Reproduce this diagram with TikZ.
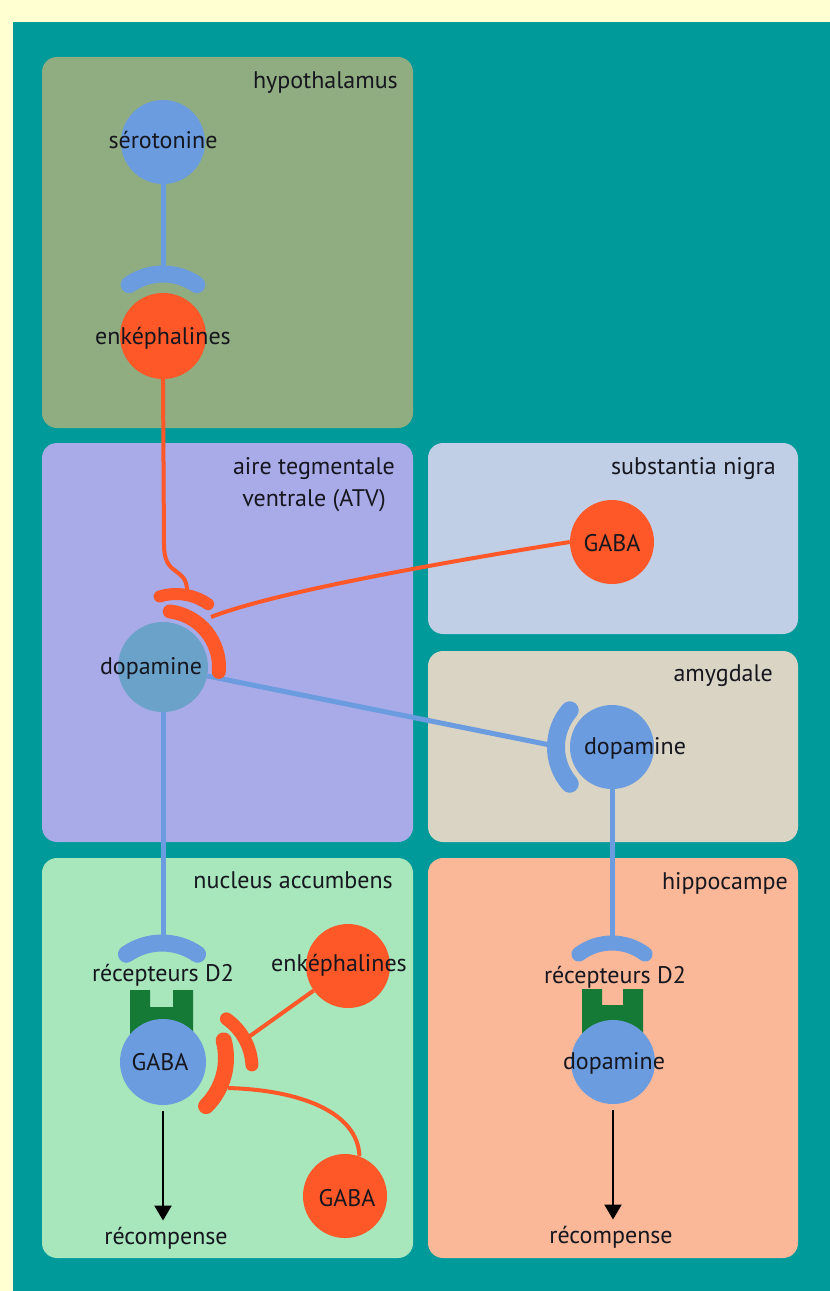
\documentclass[tikz,border=0pt]{standalone}
\usepackage{fontspec}
\setmainfont{PT Sans}
\usetikzlibrary{arrows.meta,calc}
\definecolor{bgy}{HTML}{FFFFD2}
\definecolor{teal1}{HTML}{009A9A}
\definecolor{phypo}{HTML}{90AD82}
\definecolor{patv}{HTML}{A8ABE8}
\definecolor{psn}{HTML}{C0CEE6}
\definecolor{pamy}{HTML}{DAD4C4}
\definecolor{pnuc}{HTML}{A8E6BC}
\definecolor{phip}{HTML}{FAB898}
\definecolor{cblue}{HTML}{6A9CDF}
\definecolor{catv}{HTML}{6BA2C9}
\definecolor{corange}{HTML}{FF5828}
\definecolor{cgreen}{HTML}{157A35}
\definecolor{ctext}{HTML}{16161E}
\begin{document}
\begin{tikzpicture}[x=1pt,y=1pt,yscale=-1,
  panel/.style={rounded corners=15pt},
  txt/.style={font=\fontsize{24}{30}\selectfont, text=ctext, inner sep=2pt},
  cell/.style={circle, minimum size=#1, inner sep=0pt},
  bline/.style={draw=cblue, line width=5pt},
  oline/.style={draw=corange, line width=4pt},
  brec/.style={draw=cblue, line width=17pt, line cap=round},
  orec/.style={draw=corange, line width=14pt, line cap=round},
  arr/.style={draw=black, line width=2.2pt, -{Triangle[width=17pt,length=15pt]}},
  grn/.style={fill=cgreen}
]
\useasboundingbox (0,0) rectangle (830,1291);
\fill[bgy] (0,0) rectangle (830,1291);
\fill[teal1] (13,22) rectangle (830,1291);

% panels
\fill[phypo, panel] (42,57) rectangle (413,428);
\fill[patv, panel] (42,443) rectangle (413,842);
\fill[psn, panel] (428,443) rectangle (798,634);
\fill[pamy, panel] (428,651) rectangle (798,842);
\fill[pnuc, panel] (42,858) rectangle (413,1258);
\fill[phip, panel] (428,858) rectangle (798,1258);

% green receptor blocks
\fill[grn] (130,990) -- (150,990) -- (150,1007) -- (173,1007) -- (173,990) -- (193,990) -- (193,1035) -- (130,1035) -- cycle;
\fill[grn] (582,989) -- (602,989) -- (602,1005) -- (623,1005) -- (623,989) -- (643,989) -- (643,1035) -- (582,1035) -- cycle;

% cells
\node[cell=84, fill=cblue] (ser) at (163,142) {};
\node[cell=86, fill=corange] (enkH) at (163,336) {};
\node[cell=90, fill=catv] (dopA) at (163,667) {};
\node[cell=84, fill=corange] (gabaS) at (612,542) {};
\node[cell=84, fill=cblue] (dopM) at (612,747) {};
\node[cell=86, fill=cblue] (gabaB) at (163,1062) {};
\node[cell=84, fill=corange] (enkN) at (348,966) {};
\node[cell=84, fill=corange] (gabaO) at (345,1196) {};
\node[cell=84, fill=cblue] (dopH) at (613,1062) {};

% connector end points on receptors
\coordinate (rhy) at (163,268);
\coordinate (oa) at (187,591);
\coordinate (ia) at (211,617);
\coordinate (ram) at (550,745);
\coordinate (rnu) at (163,940);
\coordinate (rhi) at (612,940);
\coordinate (ua) at (250,1036);
\coordinate (la) at (228,1088);

% connectors
\draw[bline] (ser.south) -- (rhy);
\draw[oline] (enkH.south) -- (164,545) .. controls (164,578) and (187,566) .. (oa);
\draw[oline] (gabaS.west) .. controls (420,566) and (270,594) .. (ia);
\draw[bline] (dopA) -- (ram);
\draw[bline] (dopA.south) -- (rnu);
\draw[bline] (dopM.south) -- (rhi);
\draw[oline] (enkN) -- (ua);
\draw[oline] (gabaO.70) .. controls (358,1112) and (300,1090) .. (la);

% receptors (arcs)
\draw[brec] ($(163,333)+(235:59)$) arc[start angle=235, end angle=305, radius=59];
\draw[orec] ($(163,667)+(-83:56)$) arc[start angle=-83, end angle=5, radius=56];
\draw[orec, line width=12pt] ($(176,650)+(-107:56)$) arc[start angle=-107, end angle=-55, radius=56];
\draw[brec, line width=18pt] ($(612,747)+(139:56)$) arc[start angle=139, end angle=221, radius=56];
\draw[brec] ($(162,1005)+(235:62)$) arc[start angle=235, end angle=305, radius=62];
\draw[brec, line width=15pt] ($(612,998)+(233:55)$) arc[start angle=233, end angle=307, radius=55];
\draw[orec, line width=13pt] ($(192,1068)+(-55:60)$) arc[start angle=-55, end angle=-3, radius=60];
\draw[orec, line width=16pt] ($(158,1058)+(-15:68)$) arc[start angle=-15, end angle=45, radius=68];

% texts
\node[txt, anchor=base east] (hypoL) at (400,88) {hypothalamus};
\node[txt, anchor=base] (serT) at (163,148) {sérotonine};
\node[txt, anchor=base] (enkHT) at (163,344) {enképhalines};
\node[txt, anchor=base] (atvL1) at (314,474) {aire tegmentale};
\node[txt, anchor=base] (atvL2) at (314,506) {ventrale (ATV)};
\node[txt, anchor=base] (dopAT) at (151,674) {dopamine};
\node[txt, anchor=base east] (snL) at (778,474) {substantia nigra};
\node[txt, anchor=base] (gabaST) at (612,551) {GABA};
\node[txt, anchor=base east] (amyL) at (775,681) {amygdale};
\node[txt, anchor=base] (dopMT) at (635,754) {dopamine};
\node[txt, anchor=base east] (nucL) at (395,888) {nucleus accumbens};
\node[txt, anchor=base] (rd2N) at (163,981) {récepteurs D2};
\node[txt, anchor=base] (gabaBT) at (160,1070) {GABA};
\node[txt, anchor=base] (enkNT) at (339,971) {enképhalines};
\node[txt, anchor=base] (gabaOT) at (347,1206) {GABA};
\node[txt, anchor=base] (recN) at (166,1244) {récompense};
\node[txt, anchor=base east] (hipL) at (790,889) {hippocampe};
\node[txt, anchor=base] (rd2H) at (615,983) {récepteurs D2};
\node[txt, anchor=base] (dopHT) at (614,1069) {dopamine};
\node[txt, anchor=base] (recH) at (611,1243) {récompense};

% reward arrows
\draw[arr, shorten <=6pt, shorten >=4pt] (gabaB.south) -- (gabaB.south |- recN.north);
\draw[arr, shorten <=6pt, shorten >=4pt] (dopH.south) -- (dopH.south |- recH.north);
\end{tikzpicture}
\end{document}
